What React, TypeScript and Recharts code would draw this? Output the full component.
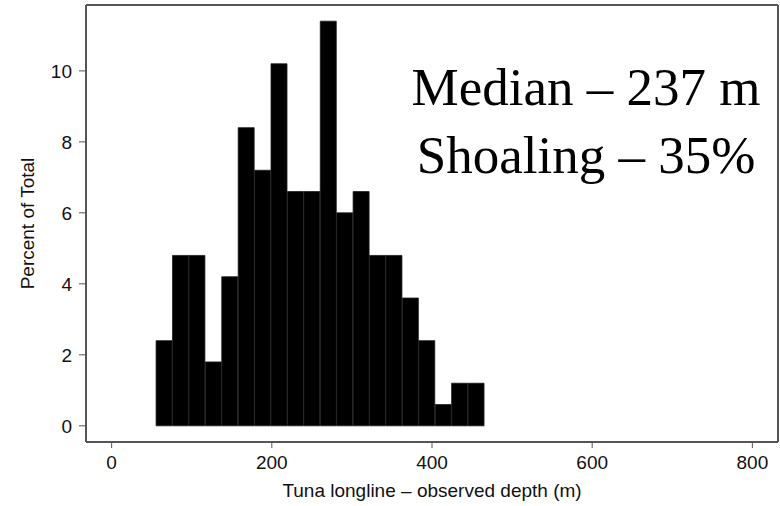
import { ComposedChart, Bar, XAxis, YAxis, Label } from "recharts";

// bin centres of the depth histogram (m), bins ~20.5 m wide
const binMid = [
  65.75, 86.25, 106.75, 127.25, 147.75, 168.25, 188.75, 209.25, 229.75, 250.25,
  270.75, 291.25, 311.75, 332.25, 352.75, 373.25, 393.75, 414.25, 434.75, 455.25,
];
const pct = [
  2.4, 4.8, 4.8, 1.8, 4.2, 8.4, 7.2, 10.2, 6.6, 6.6,
  11.4, 6.0, 6.6, 4.8, 4.8, 3.6, 2.4, 0.6, 1.2, 1.2,
];
const xTicks = [0, 200, 400, 600, 800];
const yTicks = [0, 2, 4, 6, 8, 10];
const notes = ["Median – 237 m", "Shoaling – 35%"];

const X_DOMAIN: [number, number] = [-32, 832];
const Y_DOMAIN: [number, number] = [-0.456, 11.856];

const data = binMid.map((d, i) => ({ depth: d, pct: pct[i] }));

const BOX = "#555";
const SANS = "Liberation Sans, Arial, sans-serif";
const tickFont = { fontFamily: SANS, fontSize: 19, fill: "#111" };

export default function App() {
  return (
    <div style={{ position: "absolute", left: 0, top: 0, width: 780, height: 506, background: "#fff" }}>
      <ComposedChart width={780} height={506} data={data} margin={{ top: 0, right: 0, bottom: 0, left: 0 }} barCategoryGap={0} barGap={0}>
        <XAxis
          dataKey="depth"
          type="number"
          domain={X_DOMAIN}
          ticks={xTicks}
          allowDataOverflow
          height={64}
          tickSize={6}
          tickMargin={8}
          tick={tickFont}
          axisLine={{ stroke: BOX, strokeWidth: 2 }}
          tickLine={{ stroke: BOX }}
        >
          <Label
            value="Tuna longline – observed depth (m)"
            position="insideBottom"
            offset={9}
            style={{ fontFamily: SANS, fontSize: 19, fill: "#111" }}
          />
        </XAxis>
        <XAxis
          xAxisId="top"
          orientation="top"
          type="number"
          domain={X_DOMAIN}
          ticks={xTicks}
          allowDataOverflow
          height={5}
          tickSize={5}
          tick={false}
          axisLine={{ stroke: BOX, strokeWidth: 2 }}
          tickLine={{ stroke: BOX }}
        />
        <YAxis
          type="number"
          domain={Y_DOMAIN}
          ticks={yTicks}
          allowDataOverflow
          width={86}
          tickSize={7}
          tickMargin={7}
          tick={tickFont}
          axisLine={{ stroke: BOX, strokeWidth: 2 }}
          tickLine={{ stroke: BOX }}
        >
          <Label
            value="Percent of Total"
            angle={-90}
            position="insideLeft"
            offset={27}
            style={{ fontFamily: SANS, fontSize: 19, fill: "#111", textAnchor: "middle" }}
          />
        </YAxis>
        <YAxis
          yAxisId="right"
          orientation="right"
          type="number"
          domain={Y_DOMAIN}
          ticks={yTicks}
          allowDataOverflow
          width={2}
          tickSize={7}
          tick={false}
          axisLine={{ stroke: BOX, strokeWidth: 2 }}
          tickLine={{ stroke: BOX }}
        />
        <Bar dataKey="pct" fill="#000" stroke="#1c1c1c" strokeWidth={0.8} isAnimationActive={false} />
      </ComposedChart>
      <svg width={780} height={506} style={{ position: "absolute", left: 0, top: 0, pointerEvents: "none" }}>
        {notes.map((t, i) => (
          <text
            key={t}
            x={586}
            y={105 + i * 68}
            textAnchor="middle"
            fontFamily="Liberation Serif, Times New Roman, serif"
            fontSize={53}
            fill="#000"
          >
            {t}
          </text>
        ))}
      </svg>
    </div>
  );
}
